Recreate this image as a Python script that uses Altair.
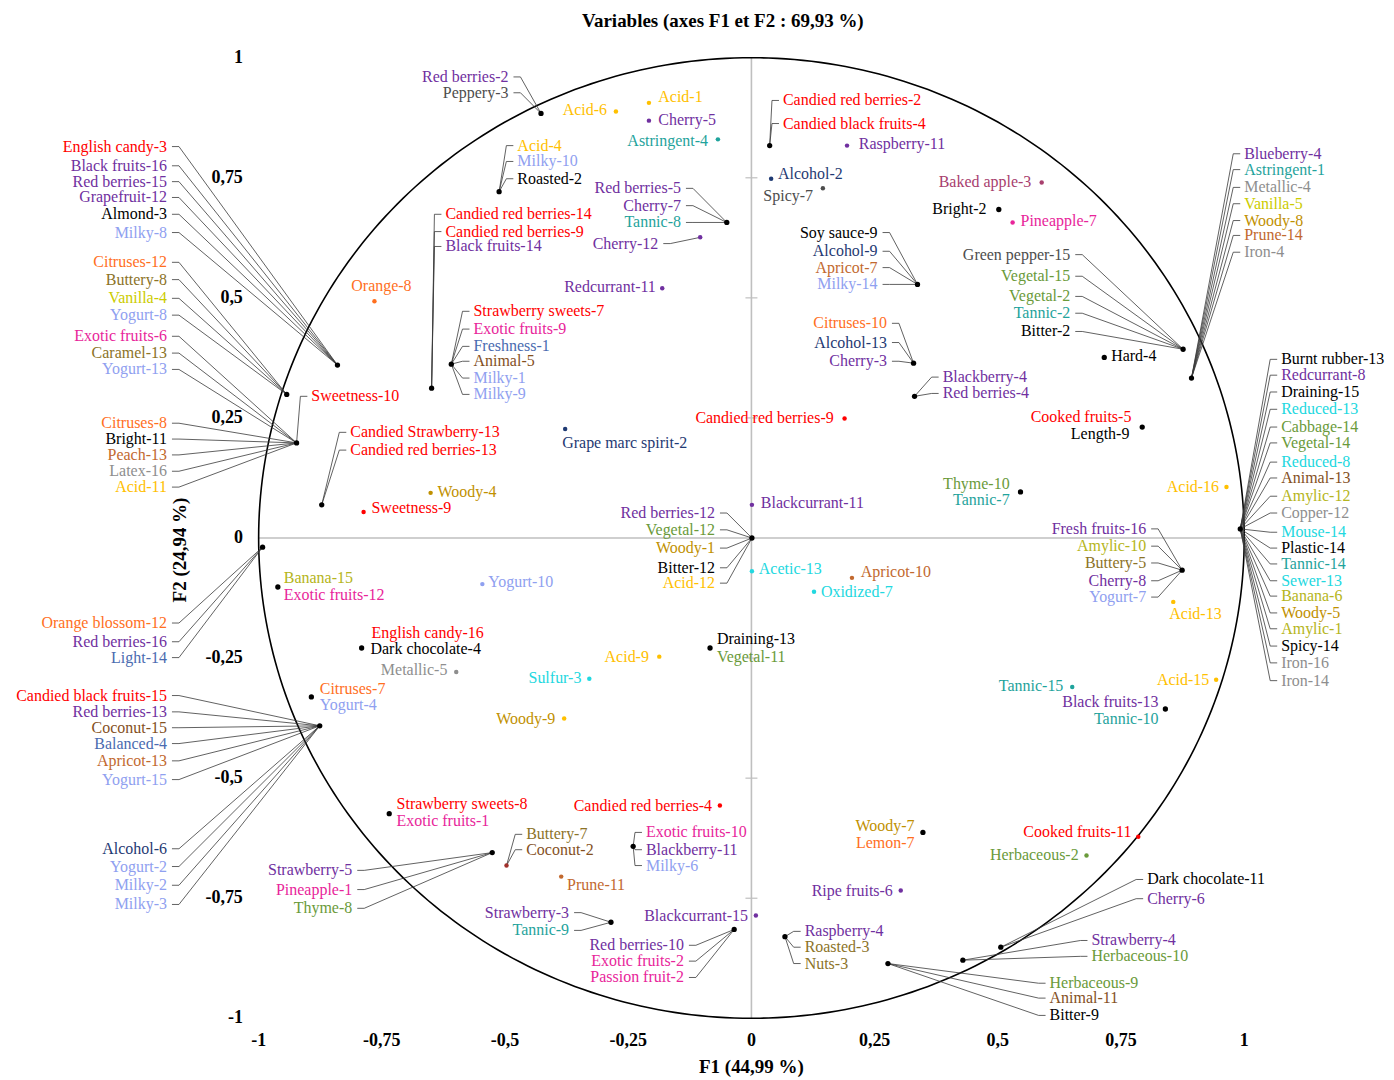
import altair as alt
import numpy as np
import pandas as pd

# ---------------- palette ----------------
PAL = {
    "red": "#FF0000", "pur": "#7030A0", "blk": "#000000", "lb": "#8FA0F0",
    "org": "#FF6F1E", "olv": "#8C7328", "yel": "#CCCC00", "amy": "#B5B520",
    "mag": "#E8259A", "apr": "#C2692F", "gry": "#8E8E8E", "acd": "#FFC000",
    "stb": "#4A6BB0", "brn": "#84501E", "nav": "#1F3A73", "tea": "#1FA39C",
    "grn": "#6A9A3A", "cya": "#22D8E0", "dgy": "#4D4D4D", "wdy": "#BF9000",
    "mau": "#A8406E", "drd": "#A0302A",
}

# ---------------- variable points (F1, F2) ----------------
points_left = [
    ("P1", -0.840, 0.360, "blk"), ("P2", -0.943, 0.299, "blk"), ("P3", -0.923, 0.198, "blk"),
    ("P4", -0.992, -0.019, "blk"), ("P5", -0.876, -0.391, "blk"), ("P6", -0.893, -0.331, "blk"),
    ("P53", -0.961, -0.102, "blk"), ("P54", -0.546, -0.096, "lb"), ("P55", -0.791, -0.229, "blk"),
    ("P56", -0.599, -0.279, "gry"), ("P57", -0.329, -0.293, "cya"), ("P58", -0.380, -0.376, "acd"),
]
points_top = [
    ("P7", -0.427, 0.884, "blk"), ("P8", -0.275, 0.888, "acd"), ("P9", -0.208, 0.906, "acd"),
    ("P10", -0.208, 0.869, "pur"), ("P11", -0.068, 0.830, "tea"), ("P12", -0.512, 0.721, "blk"),
    ("P13", -0.649, 0.312, "blk"), ("P14", -0.050, 0.657, "blk"), ("P15", -0.104, 0.626, "pur"),
    ("P16", -0.765, 0.493, "org"), ("P17", -0.181, 0.520, "pur"), ("P18", -0.609, 0.362, "blk"),
    ("P19", -0.872, 0.069, "blk"), ("P20", -0.651, 0.094, "wdy"), ("P21", -0.787, 0.054, "red"),
    ("P22", -0.378, 0.227, "nav"),
]
points_right = [
    ("P36", 0.037, 0.817, "blk"), ("P37", 0.194, 0.817, "pur"), ("P38", 0.040, 0.748, "nav"),
    ("P39", 0.145, 0.728, "dgy"), ("P40", 0.589, 0.740, "mau"), ("P41", 0.502, 0.684, "blk"),
    ("P42", 0.530, 0.657, "mag"), ("P43", 0.337, 0.528, "blk"), ("P44", 0.329, 0.364, "blk"),
    ("P45", 0.876, 0.393, "blk"), ("P46", 0.716, 0.376, "blk"), ("P47", 0.331, 0.295, "blk"),
    ("P48", 0.893, 0.333, "blk"), ("P49", 0.992, 0.019, "blk"),
]
points_mid = [
    ("P23", 0.189, 0.249, "red"), ("P24", 0.793, 0.231, "blk"), ("P25", 0.546, 0.096, "blk"),
    ("P26", 0.964, 0.106, "acd"), ("P27", 0.001, 0.069, "pur"), ("P28", 0.001, 0.000, "blk"),
    ("P29", 0.001, -0.069, "cya"), ("P30", 0.204, -0.083, "apr"), ("P31", 0.127, -0.112, "cya"),
    ("P32", 0.874, -0.067, "blk"), ("P33", 0.856, -0.133, "acd"), ("P34", -0.084, -0.229, "blk"),
    ("P35", -0.187, -0.247, "acd"), ("P50", 0.943, -0.295, "acd"), ("P51", 0.651, -0.310, "tea"),
    ("P52", 0.840, -0.356, "blk"),
]
points_bottom = [
    ("P59", -0.735, -0.574, "blk"), ("P60", -0.064, -0.557, "red"), ("P61", -0.497, -0.682, "drd"),
    ("P62", -0.526, -0.655, "blk"), ("P63", -0.386, -0.705, "apr"), ("P64", -0.240, -0.642, "blk"),
    ("P65", -0.285, -0.800, "blk"), ("P66", 0.009, -0.786, "pur"), ("P67", -0.035, -0.815, "blk"),
    ("P68", 0.348, -0.613, "blk"), ("P69", 0.785, -0.622, "red"), ("P70", 0.680, -0.661, "grn"),
    ("P71", 0.303, -0.734, "pur"), ("P72", 0.068, -0.830, "blk"), ("P73", 0.506, -0.852, "blk"),
    ("P74", 0.429, -0.879, "blk"), ("P75", 0.277, -0.886, "blk"),
]

# ---------------- labels: (point, text, colour, label F1, label F2, side, leader) ----------------
labels_left = [
    ("P1", "English candy-3", "red", -1.186, 0.815, "R", 1),
    ("P1", "Black fruits-16", "pur", -1.186, 0.775, "R", 1),
    ("P1", "Red berries-15", "pur", -1.186, 0.742, "R", 1),
    ("P1", "Grapefruit-12", "pur", -1.186, 0.709, "R", 1),
    ("P1", "Almond-3", "blk", -1.186, 0.674, "R", 1),
    ("P1", "Milky-8", "lb", -1.186, 0.636, "R", 1),
    ("P2", "Citruses-12", "org", -1.186, 0.574, "R", 1),
    ("P2", "Buttery-8", "olv", -1.186, 0.538, "R", 1),
    ("P2", "Vanilla-4", "yel", -1.186, 0.499, "R", 1),
    ("P2", "Yogurt-8", "lb", -1.186, 0.464, "R", 1),
    ("P3", "Exotic fruits-6", "mag", -1.186, 0.420, "R", 1),
    ("P3", "Caramel-13", "olv", -1.186, 0.385, "R", 1),
    ("P3", "Yogurt-13", "lb", -1.186, 0.351, "R", 1),
    ("P3", "Citruses-8", "org", -1.186, 0.239, "R", 1),
    ("P3", "Bright-11", "blk", -1.186, 0.206, "R", 1),
    ("P3", "Peach-13", "apr", -1.186, 0.173, "R", 1),
    ("P3", "Latex-16", "gry", -1.186, 0.139, "R", 1),
    ("P3", "Acid-11", "acd", -1.186, 0.106, "R", 1),
    ("P3", "Sweetness-10", "red", -0.893, 0.295, "L", 1),
    ("P4", "Orange blossom-12", "org", -1.186, -0.177, "R", 1),
    ("P4", "Red berries-16", "pur", -1.186, -0.216, "R", 1),
    ("P4", "Light-14", "stb", -1.186, -0.249, "R", 1),
    ("P5", "Candied black fruits-15", "red", -1.186, -0.328, "R", 1),
    ("P5", "Red berries-13", "pur", -1.186, -0.362, "R", 1),
    ("P5", "Coconut-15", "brn", -1.186, -0.395, "R", 1),
    ("P5", "Balanced-4", "stb", -1.186, -0.428, "R", 1),
    ("P5", "Apricot-13", "apr", -1.186, -0.464, "R", 1),
    ("P5", "Yogurt-15", "lb", -1.186, -0.503, "R", 1),
    ("P5", "Alcohol-6", "nav", -1.186, -0.647, "R", 1),
    ("P5", "Yogurt-2", "lb", -1.186, -0.684, "R", 1),
    ("P5", "Milky-2", "lb", -1.186, -0.723, "R", 1),
    ("P5", "Milky-3", "lb", -1.186, -0.763, "R", 1),
    ("P6", "Citruses-7", "org", -0.876, -0.314, "L", 0),
    ("P6", "Yogurt-4", "lb", -0.876, -0.347, "L", 0),
    ("P53", "Banana-15", "amy", -0.949, -0.083, "L", 0),
    ("P53", "Exotic fruits-12", "mag", -0.949, -0.119, "L", 0),
    ("P54", "Yogurt-10", "lb", -0.534, -0.091, "L", 0),
    ("P55", "English candy-16", "red", -0.771, -0.198, "L", 0),
    ("P55", "Dark chocolate-4", "blk", -0.773, -0.231, "L", 0),
    ("P56", "Metallic-5", "gry", -0.617, -0.274, "R", 0),
    ("P57", "Sulfur-3", "cya", -0.345, -0.291, "R", 0),
    ("P58", "Woody-9", "wdy", -0.398, -0.376, "R", 0),
]
labels_top = [
    ("P7", "Red berries-2", "pur", -0.493, 0.960, "R", 1),
    ("P7", "Peppery-3", "dgy", -0.493, 0.927, "R", 1),
    ("P8", "Acid-6", "acd", -0.293, 0.892, "R", 0),
    ("P9", "Acid-1", "acd", -0.189, 0.919, "L", 0),
    ("P10", "Cherry-5", "pur", -0.189, 0.871, "L", 0),
    ("P11", "Astringent-4", "tea", -0.088, 0.827, "R", 0),
    ("P12", "Acid-4", "acd", -0.475, 0.817, "L", 1),
    ("P12", "Milky-10", "lb", -0.475, 0.784, "L", 1),
    ("P12", "Roasted-2", "blk", -0.475, 0.748, "L", 1),
    ("P13", "Candied red berries-14", "red", -0.621, 0.674, "L", 1),
    ("P13", "Candied red berries-9", "red", -0.621, 0.638, "L", 1),
    ("P13", "Black fruits-14", "pur", -0.621, 0.607, "L", 1),
    ("P14", "Red berries-5", "pur", -0.143, 0.728, "R", 1),
    ("P14", "Cherry-7", "pur", -0.143, 0.692, "R", 1),
    ("P14", "Tannic-8", "tea", -0.143, 0.657, "R", 1),
    ("P15", "Cherry-12", "pur", -0.189, 0.613, "R", 1),
    ("P16", "Orange-8", "org", -0.812, 0.524, "L", 0),
    ("P17", "Redcurrant-11", "pur", -0.194, 0.522, "R", 0),
    ("P18", "Strawberry sweets-7", "red", -0.564, 0.472, "L", 1),
    ("P18", "Exotic fruits-9", "mag", -0.564, 0.435, "L", 1),
    ("P18", "Freshness-1", "stb", -0.564, 0.399, "L", 1),
    ("P18", "Animal-5", "brn", -0.564, 0.368, "L", 1),
    ("P18", "Milky-1", "lb", -0.564, 0.333, "L", 1),
    ("P18", "Milky-9", "lb", -0.564, 0.299, "L", 1),
    ("P19", "Candied Strawberry-13", "red", -0.814, 0.220, "L", 1),
    ("P19", "Candied red berries-13", "red", -0.814, 0.183, "L", 1),
    ("P20", "Woody-4", "wdy", -0.637, 0.096, "L", 0),
    ("P21", "Sweetness-9", "red", -0.771, 0.062, "L", 0),
    ("P22", "Grape marc spirit-2", "nav", -0.384, 0.198, "L", 0),
]
labels_right = [
    ("P36", "Candied red berries-2", "red", 0.064, 0.911, "L", 1),
    ("P36", "Candied black fruits-4", "red", 0.064, 0.863, "L", 1),
    ("P37", "Raspberry-11", "pur", 0.218, 0.821, "L", 0),
    ("P38", "Alcohol-2", "nav", 0.054, 0.757, "L", 0),
    ("P39", "Spicy-7", "dgy", 0.125, 0.713, "R", 0),
    ("P40", "Baked apple-3", "mau", 0.568, 0.742, "R", 0),
    ("P41", "Bright-2", "blk", 0.477, 0.686, "R", 0),
    ("P42", "Pineapple-7", "mag", 0.546, 0.659, "L", 0),
    ("P43", "Soy sauce-9", "blk", 0.256, 0.636, "R", 1),
    ("P43", "Alcohol-9", "nav", 0.256, 0.597, "R", 1),
    ("P43", "Apricot-7", "apr", 0.256, 0.563, "R", 1),
    ("P43", "Milky-14", "lb", 0.256, 0.528, "R", 1),
    ("P44", "Citruses-10", "org", 0.275, 0.447, "R", 1),
    ("P44", "Alcohol-13", "nav", 0.275, 0.407, "R", 1),
    ("P44", "Cherry-3", "pur", 0.275, 0.368, "R", 1),
    ("P45", "Green pepper-15", "dgy", 0.647, 0.590, "R", 1),
    ("P45", "Vegetal-15", "grn", 0.647, 0.545, "R", 1),
    ("P45", "Vegetal-2", "grn", 0.647, 0.503, "R", 1),
    ("P45", "Tannic-2", "tea", 0.647, 0.468, "R", 1),
    ("P45", "Bitter-2", "blk", 0.647, 0.430, "R", 1),
    ("P46", "Hard-4", "blk", 0.730, 0.378, "L", 0),
    ("P47", "Blackberry-4", "pur", 0.388, 0.335, "L", 1),
    ("P47", "Red berries-4", "pur", 0.388, 0.301, "L", 1),
    ("P48", "Blueberry-4", "pur", 1.000, 0.800, "L", 1),
    ("P48", "Astringent-1", "tea", 1.000, 0.767, "L", 1),
    ("P48", "Metallic-4", "gry", 1.000, 0.730, "L", 1),
    ("P48", "Vanilla-5", "yel", 1.000, 0.696, "L", 1),
    ("P48", "Woody-8", "wdy", 1.000, 0.661, "L", 1),
    ("P48", "Prune-14", "apr", 1.000, 0.630, "L", 1),
    ("P48", "Iron-4", "gry", 1.000, 0.595, "L", 1),
    ("P49", "Burnt rubber-13", "blk", 1.075, 0.372, "L", 1),
    ("P49", "Redcurrant-8", "pur", 1.075, 0.339, "L", 1),
    ("P49", "Draining-15", "blk", 1.075, 0.304, "L", 1),
    ("P49", "Reduced-13", "cya", 1.075, 0.268, "L", 1),
    ("P49", "Cabbage-14", "grn", 1.075, 0.231, "L", 1),
    ("P49", "Vegetal-14", "grn", 1.075, 0.198, "L", 1),
    ("P49", "Reduced-8", "cya", 1.075, 0.158, "L", 1),
    ("P49", "Animal-13", "brn", 1.075, 0.125, "L", 1),
    ("P49", "Amylic-12", "amy", 1.075, 0.087, "L", 1),
    ("P49", "Copper-12", "gry", 1.075, 0.052, "L", 1),
    ("P49", "Mouse-14", "cya", 1.075, 0.012, "L", 1),
    ("P49", "Plastic-14", "blk", 1.075, -0.021, "L", 1),
    ("P49", "Tannic-14", "tea", 1.075, -0.054, "L", 1),
    ("P49", "Sewer-13", "cya", 1.075, -0.089, "L", 1),
    ("P49", "Banana-6", "amy", 1.075, -0.121, "L", 1),
    ("P49", "Woody-5", "wdy", 1.075, -0.156, "L", 1),
    ("P49", "Amylic-1", "amy", 1.075, -0.189, "L", 1),
    ("P49", "Spicy-14", "blk", 1.075, -0.225, "L", 1),
    ("P49", "Iron-16", "gry", 1.075, -0.260, "L", 1),
    ("P49", "Iron-14", "gry", 1.075, -0.297, "L", 1),
]
labels_mid = [
    ("P23", "Candied red berries-9", "red", 0.167, 0.249, "R", 0),
    ("P24", "Cooked fruits-5", "red", 0.771, 0.252, "R", 0),
    ("P24", "Length-9", "blk", 0.767, 0.216, "R", 0),
    ("P25", "Thyme-10", "grn", 0.524, 0.112, "R", 0),
    ("P25", "Tannic-7", "tea", 0.524, 0.079, "R", 0),
    ("P26", "Acid-16", "acd", 0.949, 0.106, "R", 0),
    ("P27", "Blackcurrant-11", "pur", 0.019, 0.073, "L", 0),
    ("P28", "Red berries-12", "pur", -0.074, 0.052, "R", 1),
    ("P28", "Vegetal-12", "grn", -0.074, 0.017, "R", 1),
    ("P28", "Woody-1", "wdy", -0.074, -0.021, "R", 1),
    ("P28", "Bitter-12", "blk", -0.074, -0.062, "R", 1),
    ("P28", "Acid-12", "acd", -0.074, -0.094, "R", 1),
    ("P29", "Acetic-13", "cya", 0.015, -0.064, "L", 0),
    ("P30", "Apricot-10", "apr", 0.222, -0.071, "L", 0),
    ("P31", "Oxidized-7", "cya", 0.141, -0.112, "L", 0),
    ("P32", "Fresh fruits-16", "pur", 0.801, 0.019, "R", 1),
    ("P32", "Amylic-10", "amy", 0.801, -0.017, "R", 1),
    ("P32", "Buttery-5", "olv", 0.801, -0.052, "R", 1),
    ("P32", "Cherry-8", "pur", 0.801, -0.089, "R", 1),
    ("P32", "Yogurt-7", "lb", 0.801, -0.123, "R", 1),
    ("P33", "Acid-13", "acd", 0.848, -0.158, "L", 0),
    ("P34", "Draining-13", "blk", -0.070, -0.210, "L", 0),
    ("P34", "Vegetal-11", "grn", -0.070, -0.247, "L", 0),
    ("P35", "Acid-9", "acd", -0.208, -0.247, "R", 0),
    ("P50", "Acid-15", "acd", 0.929, -0.295, "R", 0),
    ("P51", "Tannic-15", "tea", 0.633, -0.308, "R", 0),
    ("P52", "Black fruits-13", "pur", 0.826, -0.341, "R", 0),
    ("P52", "Tannic-10", "tea", 0.826, -0.376, "R", 0),
]
labels_bottom = [
    ("P59", "Strawberry sweets-8", "red", -0.720, -0.553, "L", 0),
    ("P59", "Exotic fruits-1", "mag", -0.720, -0.590, "L", 0),
    ("P60", "Candied red berries-4", "red", -0.080, -0.559, "R", 0),
    ("P61", "Buttery-7", "olv", -0.457, -0.617, "L", 1),
    ("P61", "Coconut-2", "brn", -0.457, -0.649, "L", 1),
    ("P62", "Strawberry-5", "pur", -0.810, -0.692, "R", 1),
    ("P62", "Pineapple-1", "mag", -0.810, -0.732, "R", 1),
    ("P62", "Thyme-8", "grn", -0.810, -0.771, "R", 1),
    ("P63", "Prune-11", "apr", -0.374, -0.723, "L", 0),
    ("P64", "Exotic fruits-10", "mag", -0.214, -0.613, "L", 1),
    ("P64", "Blackberry-11", "pur", -0.214, -0.649, "L", 1),
    ("P64", "Milky-6", "lb", -0.214, -0.682, "L", 1),
    ("P65", "Strawberry-3", "pur", -0.370, -0.780, "R", 1),
    ("P65", "Tannic-9", "tea", -0.370, -0.817, "R", 1),
    ("P66", "Blackcurrant-15", "pur", -0.007, -0.786, "R", 0),
    ("P67", "Red berries-10", "pur", -0.137, -0.848, "R", 1),
    ("P67", "Exotic fruits-2", "mag", -0.137, -0.881, "R", 1),
    ("P67", "Passion fruit-2", "mag", -0.137, -0.915, "R", 1),
    ("P68", "Woody-7", "wdy", 0.331, -0.599, "R", 0),
    ("P68", "Lemon-7", "org", 0.331, -0.634, "R", 0),
    ("P69", "Cooked fruits-11", "red", 0.771, -0.613, "R", 0),
    ("P70", "Herbaceous-2", "grn", 0.664, -0.661, "R", 0),
    ("P71", "Ripe fruits-6", "pur", 0.287, -0.736, "R", 0),
    ("P72", "Raspberry-4", "pur", 0.108, -0.819, "L", 1),
    ("P72", "Roasted-3", "olv", 0.108, -0.852, "L", 1),
    ("P72", "Nuts-3", "olv", 0.108, -0.886, "L", 1),
    ("P73", "Dark chocolate-11", "blk", 0.803, -0.711, "L", 1),
    ("P73", "Cherry-6", "pur", 0.803, -0.751, "L", 1),
    ("P74", "Strawberry-4", "pur", 0.690, -0.838, "L", 1),
    ("P74", "Herbaceous-10", "grn", 0.690, -0.871, "L", 1),
    ("P75", "Herbaceous-9", "grn", 0.605, -0.927, "L", 1),
    ("P75", "Animal-11", "brn", 0.605, -0.958, "L", 1),
    ("P75", "Bitter-9", "blk", 0.605, -0.994, "L", 1),
]

tick_vals = [-1, -0.75, -0.5, -0.25, 0, 0.25, 0.5, 0.75, 1]
tick_text = ["-1", "-0,75", "-0,5", "-0,25", "0", "0,25", "0,5", "0,75", "1"]
title_text = "Variables (axes F1 et F2 : 69,93 %)"
f1_title = "F1 (44,99 %)"
f2_title = "F2 (24,94 %)"

# ---------------- layout ----------------
W, H = 1380, 1070
xdom = [-1.5086, 1.2877]
ydom = [-1.1227, 1.1019]
SX = W / (xdom[1] - xdom[0])
SY = H / (ydom[1] - ydom[0])
FONT = "Liberation Serif"

xs = alt.Scale(domain=xdom, nice=False, zero=False)
ys = alt.Scale(domain=ydom, nice=False, zero=False)


def X(f):
    return alt.X(f, type="quantitative", scale=xs, axis=None)


def Y(f):
    return alt.Y(f, type="quantitative", scale=ys, axis=None)


pts = pd.DataFrame(points_left + points_top + points_right + points_mid + points_bottom,
                   columns=["pid", "f1", "f2", "ck"])
pts["hex"] = pts["ck"].map(PAL)
pts["sz"] = np.where(pts["ck"] == "blk", 28, 20)
pmap = pts.set_index("pid")

lab = pd.DataFrame(labels_left + labels_top + labels_right + labels_mid + labels_bottom,
                   columns=["pid", "txt", "ck", "lx", "ly", "side", "link"])
lab["hex"] = lab["ck"].map(PAL)

seg_rows = []
for _, r in lab[lab["link"] == 1].iterrows():
    px, py = pmap.loc[r.pid, "f1"], pmap.loc[r.pid, "f2"]
    if r.side == "R":
        ax, bx = r.lx + 5 / SX, r.lx + 12 / SX
    else:
        ax, bx = r.lx - 4 / SX, r.lx - 11 / SX
    seg_rows.append((ax, r.ly, bx, r.ly))
    seg_rows.append((bx, r.ly, px, py))
segs = pd.DataFrame(seg_rows, columns=["x1", "y1", "x2", "y2"])

# axes through origin and the small ticks on the vertical one
axes_df = pd.DataFrame({"x1": [-1, 0], "y1": [0, -1], "x2": [1, 0], "y2": [0, 1]})
tv = [v for v in tick_vals if v not in (0, -1, 1)]
ticks_df = pd.DataFrame([(-6 / SX, v, 6 / SX, v) for v in tv],
                        columns=["x1", "y1", "x2", "y2"])

theta = np.linspace(0, 2 * np.pi, 361)
circ = pd.DataFrame({"cx": np.cos(theta), "cy": np.sin(theta), "o": np.arange(361)})

ytick_df = pd.DataFrame({"t": tick_text, "v": tick_vals, "x": -1.032})
xtick_df = pd.DataFrame({"t": tick_text, "v": tick_vals, "y": -1.048})
head_df = pd.DataFrame({"t": [title_text], "x": [-0.058], "y": [1.0644]})
f1_df = pd.DataFrame({"t": [f1_title], "x": [0.0], "y": [-1.102]})
f2_df = pd.DataFrame({"t": [f2_title], "x": [-1.160], "y": [-0.025]})

axes_layer = alt.Chart(axes_df).mark_rule(color="#BFBFBF", strokeWidth=1.6).encode(
    x=X("x1"), y=Y("y1"), x2="x2", y2="y2")
ticks_layer = alt.Chart(ticks_df).mark_rule(color="#BFBFBF", strokeWidth=1.2).encode(
    x=X("x1"), y=Y("y1"), x2="x2", y2="y2")
circle_layer = alt.Chart(circ).mark_line(color="#000000", strokeWidth=1.6).encode(
    x=X("cx"), y=Y("cy"), order="o:Q")
seg_layer = alt.Chart(segs).mark_rule(color="#3A3A3A", strokeWidth=0.8).encode(
    x=X("x1"), y=Y("y1"), x2="x2", y2="y2")
pt_layer = alt.Chart(pts).mark_circle(opacity=1).encode(
    x=X("f1"), y=Y("f2"), color=alt.Color("hex:N", scale=None), size=alt.Size("sz:Q", scale=None))
txt_L = alt.Chart(lab[lab["side"] == "L"]).mark_text(
    align="left", baseline="middle", font=FONT, fontSize=16).encode(
    x=X("lx"), y=Y("ly"), text="txt:N", color=alt.Color("hex:N", scale=None))
txt_R = alt.Chart(lab[lab["side"] == "R"]).mark_text(
    align="right", baseline="middle", font=FONT, fontSize=16).encode(
    x=X("lx"), y=Y("ly"), text="txt:N", color=alt.Color("hex:N", scale=None))
ytick_layer = alt.Chart(ytick_df).mark_text(
    align="right", baseline="middle", font=FONT, fontSize=18, fontWeight="bold", color="#000").encode(
    x=X("x"), y=Y("v"), text="t:N")
xtick_layer = alt.Chart(xtick_df).mark_text(
    align="center", baseline="middle", font=FONT, fontSize=18, fontWeight="bold", color="#000").encode(
    x=X("v"), y=Y("y"), text="t:N")
head_layer = alt.Chart(head_df).mark_text(
    align="center", baseline="alphabetic", font=FONT, fontSize=19, fontWeight="bold", color="#000").encode(
    x=X("x"), y=Y("y"), text="t:N")
f1_layer = alt.Chart(f1_df).mark_text(
    align="center", baseline="middle", font=FONT, fontSize=19, fontWeight="bold", color="#000").encode(
    x=X("x"), y=Y("y"), text="t:N")
f2_layer = alt.Chart(f2_df).mark_text(
    align="center", baseline="middle", font=FONT, fontSize=19, fontWeight="bold", color="#000",
    angle=270).encode(x=X("x"), y=Y("y"), text="t:N")

chart = alt.layer(
    axes_layer, ticks_layer, circle_layer, seg_layer, pt_layer, txt_L, txt_R,
    ytick_layer, xtick_layer, head_layer, f1_layer, f2_layer
).properties(
    width=W, height=H, padding=0, background="white",
    autosize=alt.AutoSizeParams(type="none")
).configure_view(stroke=None)

chart.save("out.html", embed_options={"renderer": "svg", "actions": False})
